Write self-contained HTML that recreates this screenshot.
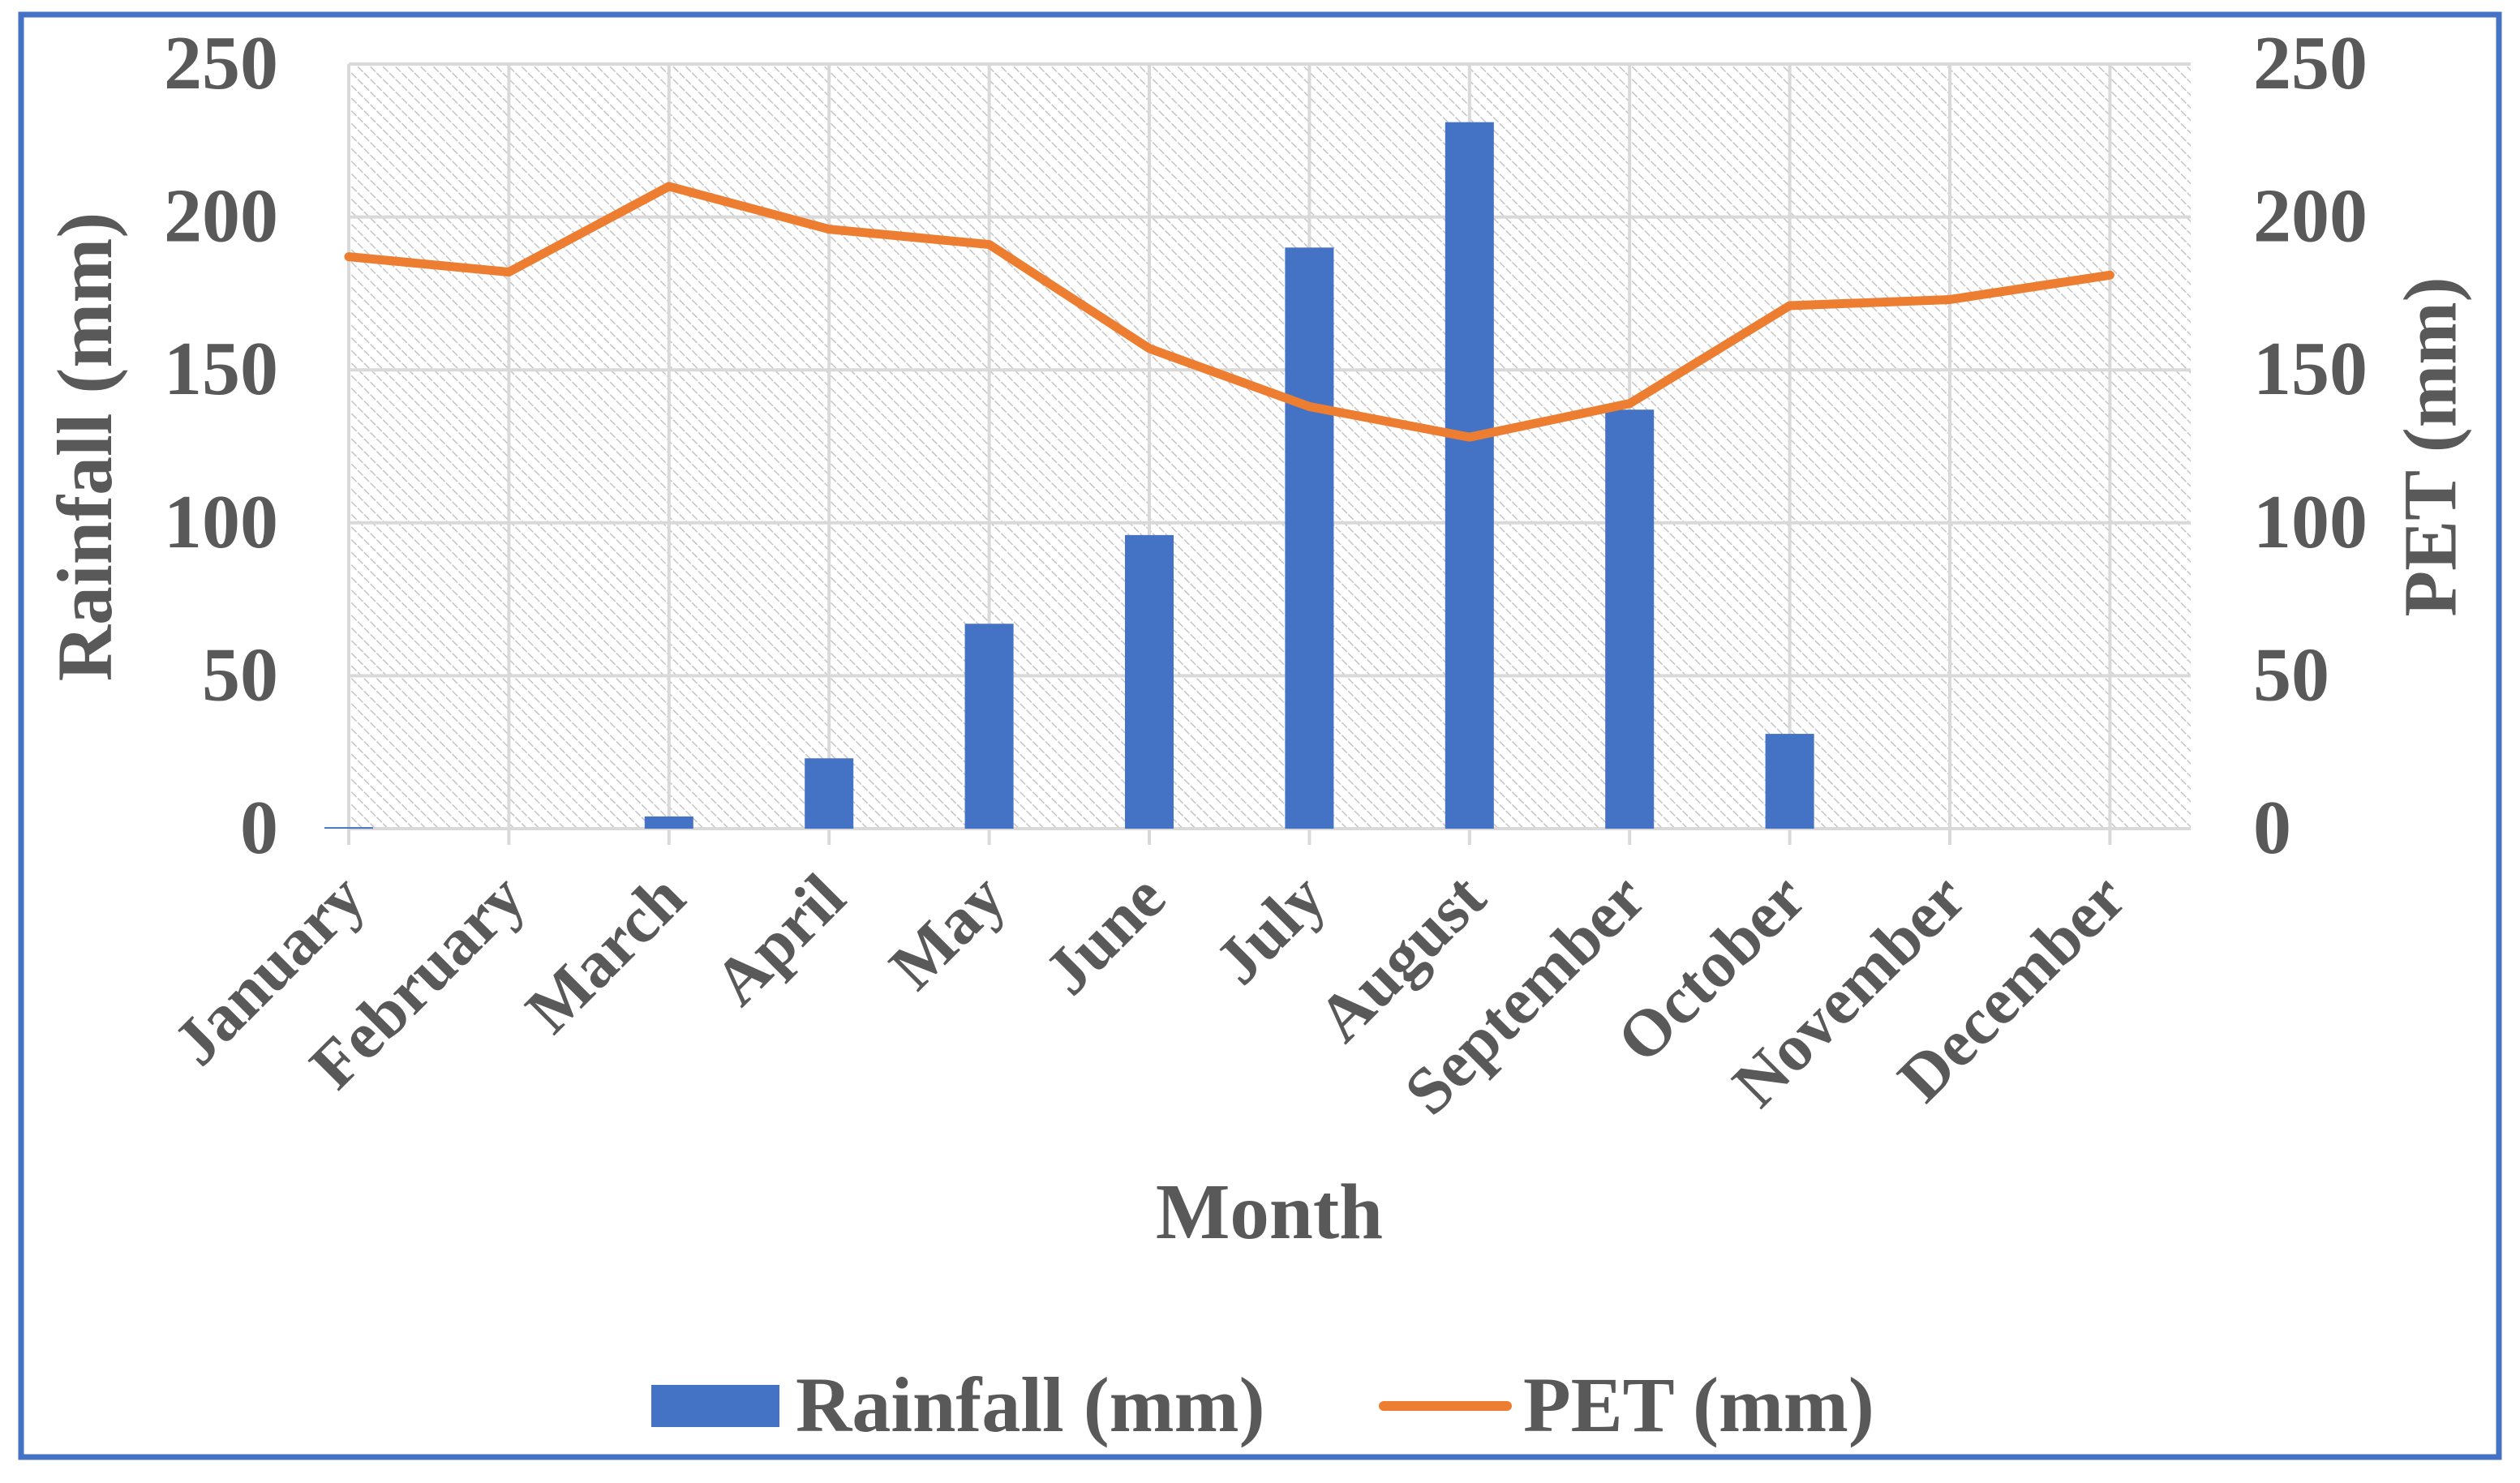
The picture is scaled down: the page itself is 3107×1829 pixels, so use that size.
<!DOCTYPE html>
<html><head><meta charset="utf-8"><style>
html,body{margin:0;padding:0;background:#fff;}
svg{display:block;}
text{font-family:"Liberation Serif",serif;font-weight:bold;fill:#595959;}
</style></head><body>
<svg id="chart" width="3107" height="1829" viewBox="0 0 3107 1829" xmlns="http://www.w3.org/2000/svg">
<defs>
<pattern id="hatch" width="11" height="11" patternUnits="userSpaceOnUse" patternTransform="rotate(-45)">
<rect width="11" height="11" fill="#fff"/>
<line x1="0" y1="0" x2="0" y2="11" stroke="#c4c4c4" stroke-width="3" stroke-dasharray="5 2"/>
</pattern>
</defs>
<rect x="26" y="18" width="3055" height="1779" fill="#fff" stroke="#4472c4" stroke-width="7"/>
<rect x="430" y="79" width="2271" height="943" fill="url(#hatch)"/>
<g id="grid"></g>
<g id="bars"></g>
<g id="line"></g>
<g id="labels"></g>
<text x="115" y="551" font-size="96" text-anchor="middle" transform="rotate(-90 115 551)" dominant-baseline="middle">Rainfall (mm)</text>
<text x="3006" y="551" font-size="93" text-anchor="middle" transform="rotate(-90 3006 551)" dominant-baseline="middle">PET (mm)</text>
<text x="1565" y="1527" font-size="97" text-anchor="middle">Month</text>
<g>
<rect x="803" y="1708" width="158" height="52" fill="#4472c4"/>
<text x="981" y="1765" font-size="96">Rainfall (mm)</text>
<line x1="1706" y1="1734" x2="1858" y2="1734" stroke="#ed7d31" stroke-width="12" stroke-linecap="round"/>
<text x="1878" y="1765" font-size="96">PET (mm)</text>
</g>
</svg>
<script>
const months = ["January","February","March","April","May","June","July","August","September","October","November","December"];
const rainfall = [0.5, 0, 4, 23, 67, 96, 190, 231, 137, 31, 0, 0];
const pet = [187, 182, 210, 196, 191, 157, 138, 128, 139, 171, 173, 181];
const yTicks = [0, 50, 100, 150, 200, 250];

const NS = "http://www.w3.org/2000/svg";
const X0 = 430, STEP = 197.4, Y0 = 1022, YTOP = 79, YMAX = 250, XR = 2701;
function xPos(i){ return X0 + i*STEP; }
function yPos(v){ return Y0 - (v/YMAX)*(Y0-YTOP); }
function mk(tag, attrs, parent){
  const e = document.createElementNS(NS, tag);
  for (const k in attrs) e.setAttribute(k, attrs[k]);
  parent.appendChild(e);
  return e;
}
const grid = document.getElementById("grid");
const bars = document.getElementById("bars");
const lineG = document.getElementById("line");
const labels = document.getElementById("labels");

yTicks.forEach(function(t){
  const y = yPos(t);
  const gl = mk("line", {x1:X0, x2:XR, y1:y, y2:y, stroke:"#d9d9d9", "stroke-width":4}, grid);
  
  
  const tl = mk("text", {x:343, y:y+30, "font-size":94, "text-anchor":"end"}, labels);
  tl.textContent = t;
  
  
  const tr = mk("text", {x:2778, y:y+30, "font-size":94, "text-anchor":"start"}, labels);
  tr.textContent = t;
  
  
});
months.forEach(function(m, i){
  const x = xPos(i);
  const vl = mk("line", {x1:x, x2:x, y1:YTOP, y2:1042, stroke:"#d9d9d9", "stroke-width":4}, grid);
  
  
  const lx = x + 24, ly = 1112;
  const ml = mk("text", {x:lx, y:ly, "font-size":82, "text-anchor":"end", transform:"rotate(-45 "+lx+" "+ly+")"}, labels);
  ml.textContent = m;
  
  
});
rainfall.forEach(function(v, i){
  if (v <= 0) return;
  const y = yPos(v);
  const b = mk("rect", {x:xPos(i)-30, y:y, width:60, height:Y0-y, fill:"#4472c4"}, bars);
  
  
});
const pts = pet.map(function(v, i){ return xPos(i) + "," + yPos(v); }).join(" ");
const pl = mk("polyline", {points:pts, fill:"none", stroke:"#ed7d31", "stroke-width":11, "stroke-linejoin":"round", "stroke-linecap":"round"}, lineG);


</script>
</body></html>
